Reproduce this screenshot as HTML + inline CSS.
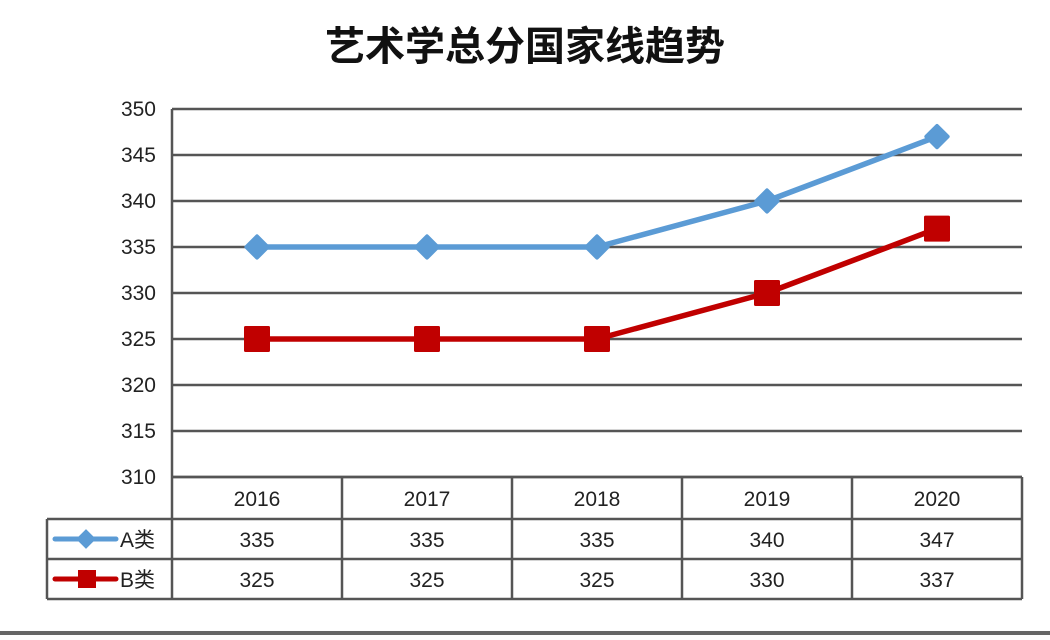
<!DOCTYPE html>
<html><head><meta charset="utf-8">
<style>
html,body{margin:0;padding:0;background:#fff;}
body{width:1050px;height:635px;overflow:hidden;}
svg text{font-family:"Liberation Sans","Noto Sans CJK SC",sans-serif;}
</style></head>
<body>
<svg id="chart" width="1050" height="635" xmlns="http://www.w3.org/2000/svg">
<text x="525" y="60" text-anchor="middle" font-size="40" font-weight="bold" fill="#111" style="font-family:'Noto Sans CJK SC',sans-serif">艺术学总分国家线趋势</text>
<g id="grid"></g>
<g id="table"></g>
<g id="series"></g>
<rect x="0" y="631" width="1050" height="4" fill="#666"/>
</svg>
<script>
const categories = ["2016","2017","2018","2019","2020"];
const seriesA = [335,335,335,340,347];
const seriesB = [325,325,325,330,337];
const seriesNames = ["A类","B类"];
const yTicks = [310,315,320,325,330,335,340,345,350];

const NS="http://www.w3.org/2000/svg";
const L=172,R=1022,T=109,B=477,colW=(R-L)/categories.length;
const yMin=310,yMax=350;
const y=v=>B-(v-yMin)/(yMax-yMin)*(B-T);
const x=i=>L+colW*(i+0.5);
function mk(tag,attrs,parent,txt){const e=document.createElementNS(NS,tag);for(const k in attrs)e.setAttribute(k,attrs[k]);if(txt!==undefined)e.textContent=txt;parent.appendChild(e);return e;}
const grid=document.getElementById('grid'),table=document.getElementById('table'),ser=document.getElementById('series');
yTicks.forEach(t=>{
  const l=mk('line',{x1:L,x2:R,y1:y(t),y2:y(t),stroke:'#555','stroke-width':2.5},grid);
  
  
  const tx=mk('text',{x:156,y:y(t)+7,'text-anchor':'end','font-size':21,fill:'#222'},grid,t);
  
  
});
mk('line',{x1:L,x2:L,y1:T,y2:599,stroke:'#555','stroke-width':2.5},grid);
const rows=[477,519,559,599];
rows.forEach((ry,i)=>{mk('line',{x1:i===0?L:47,x2:R,y1:ry,y2:ry,stroke:'#555','stroke-width':2.5},table);});
mk('line',{x1:47,x2:47,y1:519,y2:599,stroke:'#555','stroke-width':2.5},table);
for(let i=1;i<=categories.length;i++){mk('line',{x1:L+colW*i,x2:L+colW*i,y1:477,y2:599,stroke:'#555','stroke-width':2.5},table);}
categories.forEach((c,i)=>{
  const t=mk('text',{x:x(i),y:506,'text-anchor':'middle','font-size':21,fill:'#222'},table,c);
  
  
  const a=mk('text',{x:x(i),y:547,'text-anchor':'middle','font-size':21,fill:'#222'},table,seriesA[i]);
  
  
  const b=mk('text',{x:x(i),y:587,'text-anchor':'middle','font-size':21,fill:'#222'},table,seriesB[i]);
  
  
});
const blue='#5B9BD5',red='#C00000';
mk('line',{x1:55,x2:116,y1:539,y2:539,stroke:blue,'stroke-width':5,'stroke-linecap':'round'},table);
mk('rect',{x:79,y:532,width:14,height:14,fill:blue,transform:'rotate(45 86 539)'},table);
const la=mk('text',{x:120,y:547,'font-size':21,fill:'#222'},table,seriesNames[0]);


mk('line',{x1:55,x2:116,y1:579,y2:579,stroke:red,'stroke-width':5,'stroke-linecap':'round'},table);
mk('rect',{x:78,y:570,width:18,height:18,fill:red},table);
const lb=mk('text',{x:120,y:587,'font-size':21,fill:'#222'},table,seriesNames[1]);


function drawSeries(vals,color,name,marker){
  const p=mk('polyline',{points:vals.map((v,i)=>x(i)+','+y(v)).join(' '),fill:'none',stroke:color,'stroke-width':5.5,'stroke-linejoin':'round'},ser);
  
  
  vals.forEach((v,i)=>{
    let m;
    if(marker==='diamond'){m=mk('rect',{x:x(i)-9.5,y:y(v)-9.5,width:19,height:19,rx:2,fill:color,transform:`rotate(45 ${x(i)} ${y(v)})`},ser);}
    else{m=mk('rect',{x:x(i)-13,y:y(v)-13,width:26,height:26,rx:1.5,fill:color},ser);}
    
    
  });
}
drawSeries(seriesA,blue,'a','diamond');
drawSeries(seriesB,red,'b','square');
</script>
</body></html>
